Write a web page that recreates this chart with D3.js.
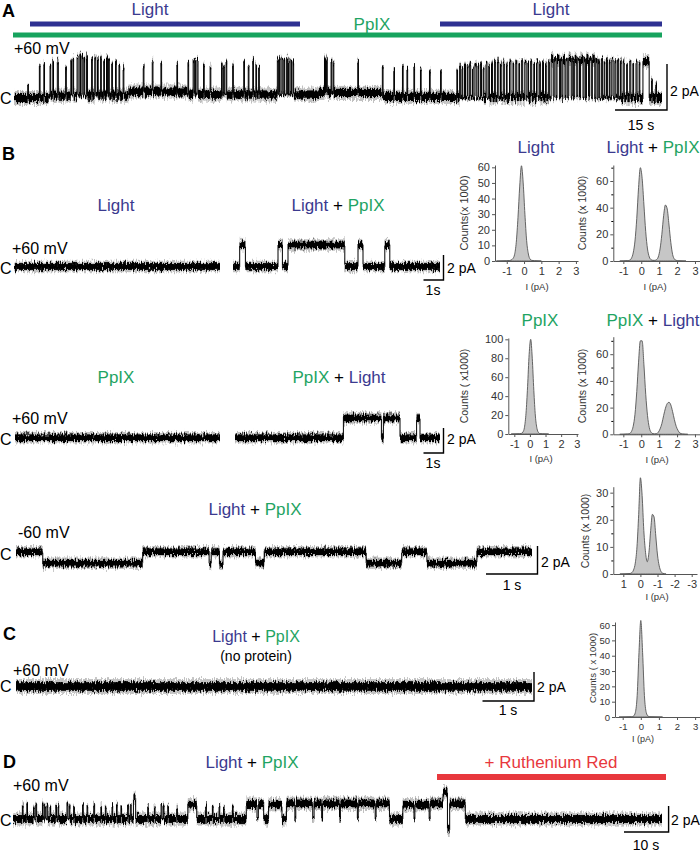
<!DOCTYPE html>
<html><head><meta charset="utf-8">
<script src="https://cdn.jsdelivr.net/npm/d3@7"></script>
<style>body{margin:0;background:#fff}svg{display:block;font-family:"Liberation Sans",Arial,Helvetica,sans-serif}</style>
</head><body><svg id="fig" width="700" height="853"></svg>
<script>
// ---------------- DATA ----------------
// Panel A: baseline drift segments [t0, t1, pA] and channel openings [t, duration s, amplitude pA]
const A_drift = [[0,10,0],[10,33,0.1],[33,50,0.28],[50,88,0.15],[88,106,0.22],[106,127,0.05],[127,187,0]];
const A_events = [[3.96,0.2,0.6],[7.32,0.2,1.4],[8.61,0.2,1.5],[10.4,0.2,1.3],[11.2,0.2,1.5],[12.5,0.3,1.5],[14.9,0.2,1.2],[16.4,0.2,1.5],[17.0,0.2,1.6],[18.2,0.3,1.7],[19.0,0.2,1.8],[19.6,0.3,1.7],[20.2,0.2,1.6],[20.9,0.3,1.7],[22.4,0.2,1.6],[23.3,0.3,1.7],[24.1,0.2,1.6],[25.0,0.2,1.7],[25.9,0.2,1.5],[26.7,0.3,1.7],[27.3,0.2,1.6],[28.2,0.2,1.4],[29.3,0.2,1.5],[30.3,0.2,1.3],[31.5,0.2,1.2],[37.3,0.2,1.1],[39.9,0.2,1.3],[42.4,0.2,1.2],[47.0,0.2,1.2],[50.2,0.2,1.4],[51.7,0.3,1.5],[52.2,0.2,1.5],[52.8,0.3,1.5],[54.7,0.2,1.3],[56.6,0.2,1.2],[59.9,0.2,1.3],[60.5,0.2,1.2],[61.2,0.2,1.4],[63.1,0.2,1.3],[66.3,0.2,1.4],[67.6,0.2,1.2],[68.9,0.2,1.5],[69.8,0.2,1.3],[70.6,0.2,1.2],[76.0,0.3,1.5],[76.6,0.2,1.6],[77.3,0.3,1.6],[77.9,0.2,1.5],[78.6,0.3,1.6],[79.2,0.2,1.5],[79.9,0.2,1.5],[80.5,0.2,1.4],[89.6,0.3,1.5],[90.2,0.2,1.5],[91.5,0.2,1.4],[92.1,0.2,1.3],[99.2,0.2,1.4],[106.3,0.2,1.3],[109.6,0.2,1.2],[112.1,0.2,1.3],[113.4,0.2,1.2],[115.4,0.2,1.3],[117.3,0.2,1.2],[119.9,0.2,1.1],[123.1,0.2,1.1],[127.8,0.2,1.2],[128.6,0.3,1.4],[129.3,0.2,1.3],[130.0,0.3,1.5],[130.8,0.2,1.4],[131.5,0.3,1.5],[132.3,0.2,1.3],[133.0,0.4,1.5],[133.9,0.2,1.4],[134.6,0.3,1.5],[135.4,0.2,1.3],[136.2,0.3,1.5],[137.0,0.2,1.4],[137.8,0.3,1.5],[138.7,0.2,1.6],[139.5,0.4,1.6],[140.4,0.2,1.5],[141.2,0.3,1.6],[142.1,0.2,1.5],[143.0,0.4,1.6],[144.0,0.2,1.5],[144.8,0.3,1.6],[145.7,0.2,1.5],[146.5,0.3,1.6],[147.4,0.4,1.6],[148.3,0.2,1.5],[149.1,0.3,1.6],[150.0,0.2,1.5],[150.8,0.4,1.6],[151.7,0.2,1.5],[152.5,0.3,1.6],[153.4,0.2,1.5],[154.2,0.3,1.6],[155.0,0.6,1.7],[155.9,0.5,1.7],[156.7,0.7,1.7],[157.7,0.4,1.7],[158.4,0.6,1.7],[159.3,0.5,1.7],[160.1,0.7,1.7],[161.1,0.4,1.7],[161.8,0.6,1.7],[162.7,0.5,1.7],[163.5,0.7,1.7],[164.5,0.4,1.7],[165.2,0.6,1.7],[166.1,0.5,1.7],[166.9,0.7,1.7],[167.9,0.4,1.7],[168.6,0.4,1.6],[169.5,0.3,1.7],[170.3,0.2,1.6],[171.0,0.3,1.7],[171.8,0.2,1.6],[172.5,0.4,1.7],[173.4,0.3,1.6],[174.2,0.3,1.7],[175.0,0.2,1.6],[175.8,0.3,1.6],[176.8,0.2,1.5],[177.7,0.3,1.6],[178.6,0.2,1.5],[179.5,0.3,1.6],[180.4,0.2,1.5],[181.5,1.8,1.6],[184.0,0.2,0.8],[185.2,0.2,0.6]];

// Panel B traces: step lists [t start (s), level (pA)]
const B1L_steps = [[0,0]];
const B1R_steps = [[0,0],[0.335,1.75],[0.62,0],[2.25,1.75],[2.47,0],[2.75,1.72],[5.59,0],[6.25,1.75],[6.5,0],[7.59,1.75],[7.84,0]];
const B2L_steps = [[0,0]];
const B2R_steps = [[0,0],[5.42,1.58],[7.32,0],[7.42,1.58],[8.25,0],[9.08,1.6],[9.25,0]];
const B3_steps = [[0,0],[0.52,-0.82],[2.46,0],[3.75,-0.9],[3.79,0],[3.95,-0.9],[4.02,0],[4.65,-0.82],[4.82,0],[6.80,-0.82],[7.49,0],[7.98,-0.82],[8.95,0]];
// Panel C
const C_steps = [[0,0]];
// Panel D: drift and openings [t, duration s, amplitude pA]
const D_drift = [[0,145.5,0]];
const D_events = [[2.1,0.15,1.0],[3.1,0.15,1.2],[4.6,0.15,0.9],[5.1,0.2,1.1],[6.6,0.15,1.2],[7.1,0.15,1.0],[7.6,0.2,1.1],[8.3,0.15,0.9],[9.6,0.15,1.1],[10.1,0.15,1.0],[12.1,0.2,1.2],[12.6,0.15,1.0],[13.6,0.15,0.9],[15.6,0.15,1.1],[16.6,0.15,1.0],[18.1,0.2,1.1],[19.7,0.15,1.0],[20.7,0.15,0.9],[22.2,0.15,1.0],[23.2,0.15,1.1],[24.2,0.15,0.9],[25.7,0.15,1.0],[26.3,0.2,1.1],[27.0,0.5,1.6],[30.2,0.15,1.0],[31.7,0.15,1.0],[33.2,0.2,1.1],[33.7,0.15,1.0],[34.7,0.15,0.9],[36.7,0.15,0.9],[39.2,2.0,1.1],[43.2,0.15,1.0],[44.7,0.15,0.9],[46.2,0.15,1.0],[47.2,0.15,0.9],[49.2,0.15,1.0],[52.3,2.4,1.15],[55.0,1.2,1.15],[57.3,3.0,1.1],[61.3,1.9,1.2],[63.4,3.8,1.2],[67.5,1.7,1.2],[69.4,3.8,1.2],[73.4,3.8,1.2],[77.4,3.8,1.2],[81.4,3.0,1.2],[87.4,2.5,1.1],[90.1,3.2,1.1],[93.5,2.9,1.2],[96.4,1.0,2.1],[97.4,0.5,-0.8],[97.9,3.5,1.2]];

// Histograms: [current (pA), counts (x1000)]
const H1_bins = [[-1.6,0],[-1.0,0.2],[-0.85,0.3],[-0.75,0.6],[-0.65,1.5],[-0.55,4],[-0.45,12],[-0.35,28],[-0.25,48],[-0.15,61],[-0.05,50],[0.05,30],[0.15,13],[0.25,4.5],[0.35,1.2],[0.45,0.4],[0.6,0.2],[1.0,0]];
const H2_bins = [[-1.2,0],[-0.75,0.3],[-0.65,0.6],[-0.55,2],[-0.45,6],[-0.35,15],[-0.25,32],[-0.15,55],[-0.05,70],[0.05,62],[0.15,42],[0.25,22],[0.35,9],[0.45,3],[0.55,1],[0.65,0.5],[0.75,0.5],[0.85,1],[0.95,3],[1.05,9],[1.15,20],[1.25,34],[1.35,42],[1.45,39],[1.55,27],[1.65,14],[1.75,5],[1.85,1.5],[1.95,0.5],[2.1,0.2],[2.5,0]];
const H3_bins = [[-1.2,0],[-0.65,0.3],[-0.55,0.6],[-0.45,2],[-0.35,7],[-0.25,22],[-0.15,50],[-0.05,84],[0.05,100],[0.15,80],[0.25,46],[0.35,19],[0.45,6],[0.55,1.5],[0.65,0.4],[0.8,0.2],[1.2,0]];
const H4_bins = [[-1.2,0],[-0.75,0.3],[-0.65,0.6],[-0.55,2],[-0.45,6],[-0.35,15],[-0.25,32],[-0.15,54],[-0.05,70],[0.05,70],[0.15,52],[0.25,30],[0.35,14],[0.45,5],[0.55,1.5],[0.65,0.5],[0.75,0.3],[0.85,0.5],[0.95,1.5],[1.05,4],[1.15,8],[1.25,14],[1.35,19.5],[1.45,23],[1.55,24],[1.65,22],[1.75,17],[1.85,11],[1.95,6],[2.05,3],[2.15,1],[2.3,0.3],[2.6,0]];
const H5_bins = [[1.2,0],[0.6,0.2],[0.5,0.5],[0.4,1.5],[0.3,4],[0.2,10],[0.1,22],[0.0,35.5],[-0.1,29],[-0.2,16],[-0.3,8],[-0.4,4.5],[-0.5,8],[-0.6,16],[-0.7,22],[-0.8,21],[-0.9,14],[-1.0,7],[-1.1,3],[-1.2,1],[-1.3,0.3],[-1.5,0]];
const HC_bins = [[-1.2,0],[-0.5,0.2],[-0.4,0.6],[-0.3,3],[-0.2,14],[-0.1,42],[0.0,63],[0.1,42],[0.2,14],[0.3,3],[0.4,0.6],[0.5,0.2],[1.2,0]];

const xTicks = [-1,0,1,2,3];
const xTicksRev = [1,0,-1,-2,-3];
const yTicks10 = [0,10,20,30,40,50,60];
const yTicks20 = [0,20,40,60];
const yTicks100 = [0,20,40,60,80,100];
const yTicks30 = [0,10,20,30];

// ---------------- DRAWING ----------------
const BLUE = "#3b3a8f", GREEN = "#1fa463", RED = "#e8383d", BBAR = "#2e3192", GBAR = "#17a35e";
const svg = d3.select('#fig');
svg.append('rect').attr('width',700).attr('height',853).attr('fill','#fff');
const defs = svg.append('defs');
const f = defs.append('filter').attr('id','jag').attr('filterUnits','userSpaceOnUse')
  .attr('x',0).attr('y',0).attr('width',700).attr('height',853);
f.append('feTurbulence').attr('type','fractalNoise').attr('baseFrequency','0.9 0.2').attr('numOctaves',2).attr('seed',4).attr('result','n');
f.append('feColorMatrix').attr('in','n').attr('type','matrix')
  .attr('values','0 0 0 0 0.5  0 1 0 0 0  0 0 1 0 0  0 0 0 0 1').attr('result','m');
f.append('feDisplacementMap').attr('in','SourceGraphic').attr('in2','m').attr('scale',9)
  .attr('xChannelSelector','R').attr('yChannelSelector','G');

function statesFromSteps(steps, tEnd){
  return steps.map((s,i)=>[s[0], i+1<steps.length ? steps[i+1][0] : tEnd, s[1]]);
}
function statesFromEvents(drift, events){
  const bp = new Set();
  drift.forEach(d=>{bp.add(d[0]); bp.add(d[1]);});
  events.forEach(e=>{bp.add(e[0]); bp.add(+(e[0]+e[1]).toFixed(4));});
  const arr = [...bp].sort((a,b)=>a-b);
  const tEnd = drift[drift.length-1][1];
  const out = [];
  for(let i=0;i<arr.length-1;i++){
    if(arr[i] >= tEnd) break;
    const m = (arr[i]+arr[i+1])/2;
    const d = drift.find(d=>m>=d[0] && m<d[1]);
    let lvl = d ? d[2] : 0;
    const ev = events.find(e=>m>=e[0] && m<e[0]+e[1]);
    if(ev) lvl += ev[2];
    if(out.length && out[out.length-1][2]===lvl) out[out.length-1][1] = arr[i+1];
    else out.push([arr[i], arr[i+1], lvl]);
  }
  return out;
}

function drawTrace(c){
  const x = d3.scaleLinear().domain(c.t).range(c.xr);
  const y = d3.scaleLinear().domain([0,1]).range([c.y0, c.y0 - c.ppa]);
  const g = svg.append('g').attr('filter','url(#jag)');
  const h = c.noise * c.ppa;
  const W = d=>Math.max(1,x(d[1])-x(d[0]));
  const H = d=>(x(d[1])-x(d[0]) < 2 ? h*0.45 : h);
  g.selectAll('rect.f').data(c.states).join('rect').attr('class','f')
    .attr('x',d=>x(d[0])).attr('width',W)
    .attr('y',d=>y(d[2])-H(d)*1.7).attr('height',d=>H(d)*3.4).attr('fill','#777').attr('opacity',0.45);
  g.selectAll('rect.b').data(c.states).join('rect').attr('class','b')
    .attr('x',d=>x(d[0])).attr('width',W)
    .attr('y',d=>y(d[2])-H(d)).attr('height',d=>2*H(d)).attr('fill','#000');
  const tr = [];
  for(let i=1;i<c.states.length;i++) tr.push([c.states[i][0], c.states[i-1][2], c.states[i][2]]);
  g.selectAll('line').data(tr).join('line')
    .attr('x1',d=>x(d[0])).attr('x2',d=>x(d[0]))
    .attr('y1',d=>y(d[1])).attr('y2',d=>y(d[2]))
    .attr('stroke','#000').attr('stroke-width',1);
  return {x, y};
}

function scaleBar(sc, cx, cy, pA, sec, vLab, hLab, vlx, vly, hlx, hly, fs){
  const v = Math.abs(sc.y(0) - sc.y(pA));
  const hh = Math.abs(sc.x(sec) - sc.x(0));
  svg.append('path').attr('d',`M${cx-hh},${cy}H${cx}V${cy-v}`)
    .attr('fill','none').attr('stroke','#000').attr('stroke-width',1.4);
  svg.append('text').attr('x',vlx).attr('y',vly).attr('font-size',fs||14).text(vLab);
  svg.append('text').attr('x',hlx).attr('y',hly).attr('font-size',fs||14).attr('text-anchor','middle').text(hLab);
}

function rich(x, y, parts, size, anchor){
  const t = svg.append('text').attr('x',x).attr('y',y).attr('font-size',size).attr('text-anchor',anchor||'middle');
  parts.forEach(p=>t.append('tspan').attr('fill',p[1]).text(p[0]));
  return t;
}
function txt(x,y,s,size,opts){
  const t = svg.append('text').attr('x',x).attr('y',y).attr('font-size',size).text(s);
  if(opts){ Object.entries(opts).forEach(([k,v])=>t.attr(k,v)); }
  return t;
}
const LP = [["Light",BLUE],[" + ","#000"],["PpIX",GREEN]];
const PL = [["PpIX",GREEN],[" + ","#000"],["Light",BLUE]];

function drawHist(c){
  const x = d3.scaleLinear().domain(c.xd).range(c.xr);
  const y = d3.scaleLinear().domain(c.yd).range(c.yr);
  const g = svg.append('g');
  const area = d3.area().x(d=>x(d[0])).y0(y(0)).y1(d=>y(d[1])).curve(d3.curveMonotoneX);
  g.append('path').datum(c.bins).attr('d',area).attr('fill','#c6c6c6').attr('stroke','#555').attr('stroke-width',0.9);
  const fs = c.fs || 11;
  const ya = g.append('g').attr('transform',`translate(${c.xr[0]},0)`)
    .call(d3.axisLeft(y).tickValues(c.yt).tickSize(3).tickSizeOuter(0).tickPadding(2).tickFormat(d=>String(d)));
  if(c.ym){
    g.append('g').attr('transform',`translate(${c.xr[0]},0)`)
      .call(d3.axisLeft(y).tickValues(c.ym).tickSize(2).tickSizeOuter(0).tickFormat(''))
      .select('.domain').remove();
  }
  const xa = g.append('g').attr('transform',`translate(0,${c.yr[0]})`)
    .call(d3.axisBottom(x).tickValues(c.xt).tickSize(3).tickSizeOuter(0).tickPadding(3).tickFormat(d=>String(d)));
  [ya, xa].forEach(a=>{
    a.selectAll('text').attr('font-size',fs).attr('fill','#333').attr('font-family','"Liberation Sans",Arial,sans-serif');
    a.selectAll('line,path').attr('stroke','#555');
  });
  g.append('text').attr('x',c.ilx).attr('y',c.ily).attr('font-size',c.ifs||9.5).attr('fill','#333').attr('text-anchor','middle').text('I (pA)');
  g.append('text').attr('transform',`translate(${c.clx},${c.cly}) rotate(-90)`).attr('font-size',c.cfs||10.5)
    .attr('fill','#333').attr('text-anchor','middle').text(c.clab);
}

// ---------- Panel A ----------
txt(2,17,'A',18,{'font-weight':'bold'});
svg.append('rect').attr('x',30).attr('y',21.5).attr('width',270).attr('height',5).attr('fill',BBAR);
svg.append('rect').attr('x',440).attr('y',21.5).attr('width',222).attr('height',5).attr('fill',BBAR);
svg.append('rect').attr('x',13).attr('y',32.5).attr('width',649).attr('height',5).attr('fill',GBAR);
rich(150,15,[["Light",BLUE]],17);
rich(551,15,[["Light",BLUE]],17);
rich(372,30,[["PpIX",GREEN]],17);
txt(14,54,'+60 mV',16);
txt(0,104,'C',16);
const scA = drawTrace({xr:[14,662], t:[0,187], y0:98, ppa:23, noise:0.18, states:statesFromEvents(A_drift, A_events)});
scaleBar(scA, 667, 110, 2, 15, '2 pA', '15 s', 670, 96, 641, 130);

// ---------- Panel B ----------
txt(2,160,'B',18,{'font-weight':'bold'});
rich(116,211,[["Light",BLUE]],17);
rich(338,211,LP,17);
txt(12,254,'+60 mV',16);
txt(0,274,'C',16);
drawTrace({xr:[14,220], t:[0,10.3], y0:266.5, ppa:12.5, noise:0.27, states:statesFromSteps(B1L_steps,10.3)});
const scB1 = drawTrace({xr:[233,440], t:[0,10.35], y0:266.5, ppa:12.5, noise:0.27, states:statesFromSteps(B1R_steps,10.35)});
scaleBar(scB1, 443.5, 280, 2, 1, '2 pA', '1s', 447, 273, 433, 295);

rich(116,383,[["PpIX",GREEN]],17);
rich(339,383,PL,17);
txt(12,424,'+60 mV',16);
txt(0,445,'C',16);
drawTrace({xr:[15,220], t:[0,10.25], y0:437.7, ppa:12.5, noise:0.27, states:statesFromSteps(B2L_steps,10.25)});
const scB2 = drawTrace({xr:[235,440], t:[0,10.25], y0:437.7, ppa:12.5, noise:0.27, states:statesFromSteps(B2R_steps,10.25)});
scaleBar(scB2, 443.5, 453, 2, 1, '2 pA', '1s', 447, 444, 433, 468);

rich(255,515,LP,17);
txt(18,538,'-60 mV',16);
txt(0,560,'C',16);
const scB3 = drawTrace({xr:[16,532], t:[0,10.02], y0:551.7, ppa:14, noise:0.24, states:statesFromSteps(B3_steps,10.02)});
scaleBar(scB3, 537.5, 574, 2, 1, '2 pA', '1 s', 541, 567, 512, 590);

// histograms
rich(536,153,[["Light",BLUE]],17);
rich(653,153,LP,17);
drawHist({bins:H1_bins, xd:[-1.68,3.12], xr:[495,578], yd:[0,61.5], yr:[261,165], yt:yTicks10, xt:xTicks,
  ilx:537, ily:290, clx:468, cly:213, cfs:11, clab:'Counts(x 1000)'});
drawHist({bins:H2_bins, xd:[-1.56,3.28], xr:[613.3,700], yd:[0,72], yr:[261,165], yt:yTicks20, ym:[10,30,50,70], xt:xTicks,
  ilx:655, ily:290, clx:586, cly:213, clab:'Counts (x 1000)'});
rich(540,326,[["PpIX",GREEN]],17);
rich(653,326,PL,17);
drawHist({bins:H3_bins, xd:[-1.385,3.08], xr:[508.3,578], yd:[0,101.4], yr:[434,338], yt:yTicks100, xt:xTicks,
  ilx:541, ily:462, clx:468, cly:386, clab:'Counts ( x1000)'});
drawHist({bins:H4_bins, xd:[-1.56,3.28], xr:[613.3,700], yd:[0,73.1], yr:[434.3,336.7], yt:yTicks20, ym:[10,30,50,70], xt:xTicks,
  ilx:657, ily:463, clx:586, cly:386, clab:'Counts (x 1000)'});
drawHist({bins:H5_bins, xd:[1.585,-3.31], xr:[613.3,697], yd:[0,32.2], yr:[574,486.7], yt:yTicks30, ym:[5,15,25], xt:xTicksRev,
  ilx:657, ily:600, clx:589, cly:531, clab:'Counts (x 1000)'});

// ---------- Panel C ----------
txt(3,640,'C',18,{'font-weight':'bold'});
rich(256,642,LP,16);
txt(256,661,'(no protein)',14,{'text-anchor':'middle'});
txt(13,676,'+60 mV',16);
txt(0,692,'C',16);
const scC = drawTrace({xr:[16,532], t:[0,10.02], y0:686.5, ppa:14.5, noise:0.3, states:statesFromSteps(C_steps,10.02)});
scaleBar(scC, 534, 701, 2, 1, '2 pA', '1 s', 537, 692, 508, 715);
drawHist({bins:HC_bins, xd:[-1.425,3.27], xr:[615,700], yd:[0,62], yr:[717,622], yt:yTicks10, xt:xTicks, fs:9.5,
  ilx:643, ily:742, ifs:9, clx:596, cly:668, cfs:9.5, clab:'Counts ( x 1000)'});

// ---------- Panel D ----------
txt(3,768,'D',18,{'font-weight':'bold'});
rich(252,768,LP,17);
rich(551,768,[["+ Ruthenium Red",RED]],17);
svg.append('rect').attr('x',437).attr('y',774).attr('width',229).attr('height',6).attr('fill',RED);
txt(13,791,'+60 mV',16);
txt(0,826,'C',16);
const scD = drawTrace({xr:[13,662], t:[0,145.5], y0:819, ppa:13, noise:0.3, states:statesFromEvents(D_drift, D_events)});
scaleBar(scD, 668.6, 832, 2, 10, '2 pA', '10 s', 671, 825, 646, 850);
</script></body></html>
